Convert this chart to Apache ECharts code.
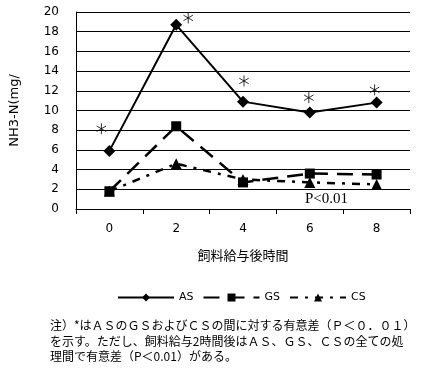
<!DOCTYPE html>
<html><head><meta charset="utf-8">
<script src="https://cdn.jsdelivr.net/npm/echarts@6/dist/echarts.min.js"></script>
<style>html,body{margin:0;padding:0;background:#fff}#c{width:426px;height:370px}</style>
</head><body><div id="c"></div>
<script>
const categories = ['0', '2', '4', '6', '8'];
const asValues = [5.9, 18.7, 10.9, 9.8, 10.8];
const gsValues = [1.8, 8.4, 2.7, 3.6, 3.5];
const csValues = [1.8, 4.6, 3.0, 2.7, 2.5];
const starValues = [8.15, 19.4, 13.0, 11.3, 12.1];
const yTicks = [0, 2, 4, 6, 8, 10, 12, 14, 16, 18, 20];
const footnote = [
  '注）*はＡＳのＧＳおよびＣＳの間に対する有意差（Ｐ＜０．０１）',
  'を示す。ただし、飼料給与2時間後はＡＳ、ＧＳ、ＣＳの全ての処',
  '理間で有意差（P＜0.01）がある。'
];
const pText = 'P<0.01';

const starOffsetX = [-8, 12, 1, -1, -2];
const jp = '"Noto Sans CJK JP", sans-serif';
const chart = echarts.init(document.getElementById('c'));
chart.setOption({
  animation: false,
  backgroundColor: '#fff',
  grid: { left: 69, right: 16, top: 12, bottom: 161 },
  xAxis: {
    type: 'category', data: categories, boundaryGap: true,
    name: '飼料給与後時間', nameLocation: 'middle', nameGap: 40,
    nameTextStyle: { fontFamily: jp, fontSize: 13, color: '#000' },
    axisLine: { lineStyle: { color: '#000', width: 1 } },
    axisTick: { show: true, inside: false, length: 5, lineStyle: { color: '#000' } },
    axisLabel: { color: '#000', fontSize: 12, fontFamily: 'DejaVu Sans', margin: 14 }
  },
  yAxis: {
    type: 'value', min: yTicks[0], max: yTicks[yTicks.length - 1], interval: 2,
    name: 'NH3-N(mg/', nameLocation: 'middle', nameGap: 55,
    nameTextStyle: { fontFamily: 'DejaVu Sans', fontSize: 13, color: '#000' },
    axisLine: { show: true, lineStyle: { color: '#000', width: 1 } },
    axisTick: { show: false },
    axisLabel: { color: '#000', fontSize: 12, fontFamily: 'DejaVu Sans', margin: 17 },
    splitLine: { show: true, lineStyle: { color: '#000', width: 1 } }
  },
  legend: {
    left: 112, top: 287, itemWidth: 56, itemHeight: 10, itemGap: 9,
    data: ['AS', 'GS', 'CS'],
    textStyle: { color: '#000', fontSize: 11, fontFamily: 'DejaVu Sans' }
  },
  series: [
    { name: 'AS', type: 'line', data: asValues, symbol: 'diamond', symbolSize: 12,
      itemStyle: { color: '#000' }, lineStyle: { color: '#000', width: 2 }, z: 3 },
    { name: 'GS', type: 'line', data: gsValues, symbol: 'rect', symbolSize: 10,
      itemStyle: { color: '#000' }, lineStyle: { color: '#000', width: 2.5, type: [16, 9] }, z: 2 },
    { name: 'CS', type: 'line', data: csValues, symbol: 'triangle', symbolSize: 11,
      itemStyle: { color: '#000' }, lineStyle: { color: '#000', width: 2.5, type: [8, 7, 3, 7] }, z: 4 },
    { name: 'star', type: 'scatter', z: 5,
      data: starValues.map((v, i) => ({ value: v, symbolOffset: [starOffsetX[i], 0] })),
      symbol: 'path://M5,0L5,10M0.7,2.5L9.3,7.5M0.7,7.5L9.3,2.5', symbolSize: 11, symbolKeepAspect: true,
      itemStyle: { color: 'none', borderColor: '#000', borderWidth: 1 }, silent: true }
  ],
  graphic: [
    { type: 'text', left: 305, top: 192, style: { text: pText, font: '15px "Liberation Serif"', fill: '#000' } },
    { type: 'text', left: 50, top: 318, style: { text: footnote.join('\n'), font: '12px ' + jp, lineHeight: 15.5, fill: '#000' } }
  ]
});
</script></body></html>
